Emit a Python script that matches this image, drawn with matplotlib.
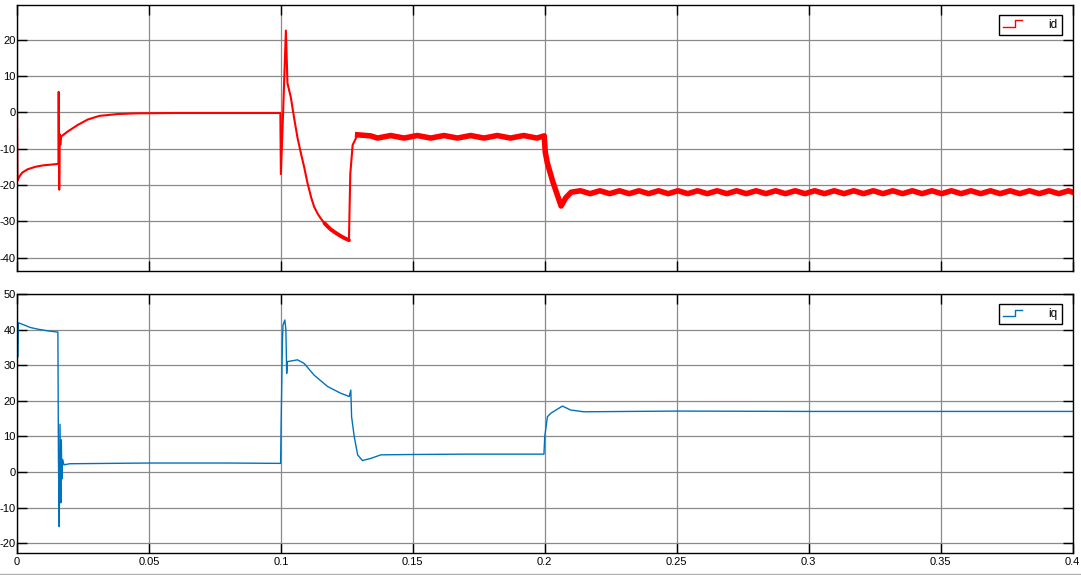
import numpy as np
import matplotlib
matplotlib.use("Agg")
import matplotlib.pyplot as plt
from matplotlib.legend_handler import HandlerBase
from matplotlib.lines import Line2D

# ---------------- data ----------------
id_t = [0.0000, 0.0002, 0.0008, 0.0020, 0.0040, 0.0070, 0.0100, 0.0130, 0.0157,
        0.0158, 0.0160, 0.0162, 0.0164, 0.0167, 0.0192, 0.0230, 0.0268, 0.0312,
        0.0380, 0.0450, 0.0600, 0.0800, 0.0998, 0.1000, 0.1008, 0.1019, 0.1025,
        0.1038, 0.1050, 0.1063, 0.1075, 0.1088, 0.1101, 0.1115, 0.1126, 0.1140,
        0.1152, 0.1165, 0.1177, 0.1190, 0.1208, 0.1225, 0.1240, 0.1258,
        0.1263, 0.1272, 0.1291,
        0.1340, 0.1366, 0.1416, 0.1467, 0.1517, 0.1568, 0.1618, 0.1669, 0.1719,
        0.1770, 0.1820, 0.1870, 0.1920, 0.1970, 0.1998,
        0.2002, 0.2010, 0.2030, 0.2062, 0.2080, 0.2100,
        0.2135, 0.2172, 0.2209, 0.2246, 0.2283, 0.2320, 0.2357, 0.2394, 0.2431,
        0.2468, 0.2505, 0.2542, 0.2579, 0.2616, 0.2653, 0.2690, 0.2727, 0.2764,
        0.2801, 0.2838, 0.2875, 0.2912, 0.2949, 0.2986, 0.3023, 0.3060, 0.3097,
        0.3134, 0.3171, 0.3208, 0.3245, 0.3282, 0.3319, 0.3356, 0.3393, 0.3430,
        0.3467, 0.3504, 0.3541, 0.3578, 0.3615, 0.3652, 0.3689, 0.3726, 0.3763,
        0.3800, 0.3837, 0.3874, 0.3911, 0.3948, 0.3985, 0.4000]
id_v = [0.0, -18.8, -17.8, -16.6, -15.7, -15.0, -14.6, -14.4, -14.2,
        5.6, -21.3, -6.0, -9.0, -6.7, -5.3, -3.5, -2.0, -1.0,
        -0.5, -0.3, -0.2, -0.2, -0.2, -17.0, -1.0, 22.5, 8.0,
        4.0, -1.5, -7.0, -11.0, -15.0, -19.5, -23.5, -26.0, -28.0,
        -29.3, -30.5, -31.4, -32.3, -33.2, -34.0, -34.6, -35.2,
        -17.0, -9.0, -6.2,
        -6.5, -7.1, -6.4, -7.1, -6.4, -7.1, -6.4, -7.1, -6.4,
        -7.1, -6.4, -7.1, -6.4, -7.1, -6.5,
        -11.0, -14.0, -19.0, -25.8, -23.5, -22.0,
        -21.6, -22.4, -21.6, -22.4, -21.6, -22.4, -21.6, -22.4, -21.6,
        -22.4, -21.6, -22.4, -21.6, -22.4, -21.6, -22.4, -21.6, -22.4,
        -21.6, -22.4, -21.6, -22.4, -21.6, -22.4, -21.6, -22.4, -21.6,
        -22.4, -21.6, -22.4, -21.6, -22.4, -21.6, -22.4, -21.6, -22.4,
        -21.6, -22.4, -21.6, -22.4, -21.6, -22.4, -21.6, -22.4, -21.6,
        -22.4, -21.6, -22.4, -21.6, -22.4, -21.6, -22.0]

iq_t = [0.0000, 0.0001, 0.0004, 0.0005, 0.0020, 0.0050, 0.0080, 0.0120, 0.0155,
        0.0157, 0.0160, 0.0163, 0.0166, 0.0168, 0.0170, 0.0173, 0.0178, 0.0200,
        0.0500, 0.0800, 0.0999, 0.1001, 0.1006, 0.1008, 0.1015, 0.1019, 0.1022,
        0.1025, 0.1063, 0.1088, 0.1126, 0.1177, 0.1227, 0.1259, 0.1265, 0.1268,
        0.1278, 0.1291, 0.1309, 0.1341, 0.1379, 0.1500, 0.1700, 0.1997, 0.2000,
        0.2010, 0.2023, 0.2067, 0.2098, 0.2148, 0.2500, 0.3000, 0.3500, 0.4000]
iq_v = [0.0, 32.0, 32.5, 41.9, 41.5, 40.6, 40.1, 39.6, 39.3,
        4.5, -15.4, 13.4, -8.7, 9.0, -2.0, 3.5, 2.0, 2.3,
        2.5, 2.5, 2.4, 13.7, 37.0, 41.3, 42.7, 40.0, 27.7,
        31.0, 31.5, 30.5, 27.2, 24.0, 22.1, 21.2, 23.0, 15.5,
        9.9, 4.8, 3.2, 3.8, 4.8, 4.9, 5.0, 5.0, 9.9,
        15.5, 16.5, 18.5, 17.4, 16.9, 17.1, 17.0, 17.0, 17.0]

x_ticks = [0, 0.05, 0.1, 0.15, 0.2, 0.25, 0.3, 0.35, 0.4]
x_labels = ["0", "0.05", "0.1", "0.15", "0.2", "0.25", "0.3", "0.35", "0.4"]
id_yticks = [-40, -30, -20, -10, 0, 10, 20]
id_ylabels = ["-40", "-30", "-20", "-10", "0", "10", "20"]
iq_yticks = [-20, -10, 0, 10, 20, 30, 40, 50]
iq_ylabels = ["-20", "-10", "0", "10", "20", "30", "40", "50"]

RED = "#FF0000"
BLUE = "#0072BD"

plt.rcParams['font.family'] = ['Liberation Sans', 'DejaVu Sans']

W, H = 1081, 575
fig = plt.figure(figsize=(W / 100, H / 100), dpi=100)
fig.patch.set_facecolor("white")


def px_axes(x0, y0, x1, y1):
    return fig.add_axes([x0 / W, 1 - y1 / H, (x1 - x0) / W, (y1 - y0) / H])


ax1 = px_axes(17, 4.7, 1072.5, 270.7)
ax2 = px_axes(17, 294, 1072.5, 552.7)


class HandlerStep(HandlerBase):
    def create_artists(self, legend, orig_handle, xdescent, ydescent,
                       width, height, fontsize, trans):
        x0 = -xdescent
        y0 = -ydescent
        xs = [x0, x0 + width * 0.6, x0 + width * 0.6, x0 + width]
        ys = [y0 + height * 0.05, y0 + height * 0.05, y0 + height * 0.95, y0 + height * 0.95]
        ln = Line2D(xs, ys, color=orig_handle.get_color(), lw=1.0)
        ln.set_transform(trans)
        return [ln]


def style(ax, yticks, ylabels, ylim):
    ax.set_xlim(0, 0.4)
    ax.set_ylim(*ylim)
    ax.set_xticks(x_ticks)
    ax.set_yticks(yticks)
    ax.set_yticklabels(ylabels)
    ax.grid(True, color="#8a8a8a", lw=0.9)
    ax.tick_params(direction="in", length=7.5, width=1.0, top=True, right=True,
                   labelsize=8, colors="black")
    ax.tick_params(axis="y", pad=0.8)
    ax.tick_params(axis="x", pad=3)
    for s in ax.spines.values():
        s.set_linewidth(1.0)
        s.set_color("black")
    ax.set_axisbelow(True)


# top: id
t1 = np.array(id_t)
v1 = np.array(id_v)
ln1, = ax1.plot(t1, v1, color=RED, lw=1.5, label="id")
m_a = (t1 >= 0.1165) & (t1 <= 0.1258)
ax1.plot(t1[m_a], v1[m_a], color=RED, lw=2.8, solid_capstyle="round")
m_b = t1 >= 0.1291
ax1.plot(t1[m_b], v1[m_b], color=RED, lw=4.0, solid_joinstyle="round")
style(ax1, id_yticks, id_ylabels, (-43.6, 29.6))
ax1.set_xticklabels([])
leg1 = ax1.legend(handles=[ln1], handler_map={Line2D: HandlerStep()},
                  loc="upper right", bbox_to_anchor=(0.9896, 0.962),
                  borderaxespad=0, fancybox=False, framealpha=1,
                  edgecolor="black", fontsize=8.5, handlelength=1.6,
                  handletextpad=2.2, borderpad=0.35, handleheight=0.6)
leg1.get_frame().set_linewidth(1.0)

# bottom: iq
ln2, = ax2.plot(iq_t, iq_v, color=BLUE, lw=1.0, label="iq")
style(ax2, iq_yticks, iq_ylabels, (-22.7, 50))
ax2.set_xticklabels(x_labels)
leg2 = ax2.legend(handles=[ln2], handler_map={Line2D: HandlerStep()},
                  loc="upper right", bbox_to_anchor=(0.9896, 0.961),
                  borderaxespad=0, fancybox=False, framealpha=1,
                  edgecolor="black", fontsize=8.5, handlelength=1.6,
                  handletextpad=2.2, borderpad=0.35, handleheight=0.6)
leg2.get_frame().set_linewidth(1.0)

# thin frame line at the bottom of the figure
fig.add_artist(Line2D([0, 1], [1.5 / H, 1.5 / H], transform=fig.transFigure,
                      color="#b0b0b0", lw=1.0))

fig.savefig("out.png", dpi=100, facecolor="white")
